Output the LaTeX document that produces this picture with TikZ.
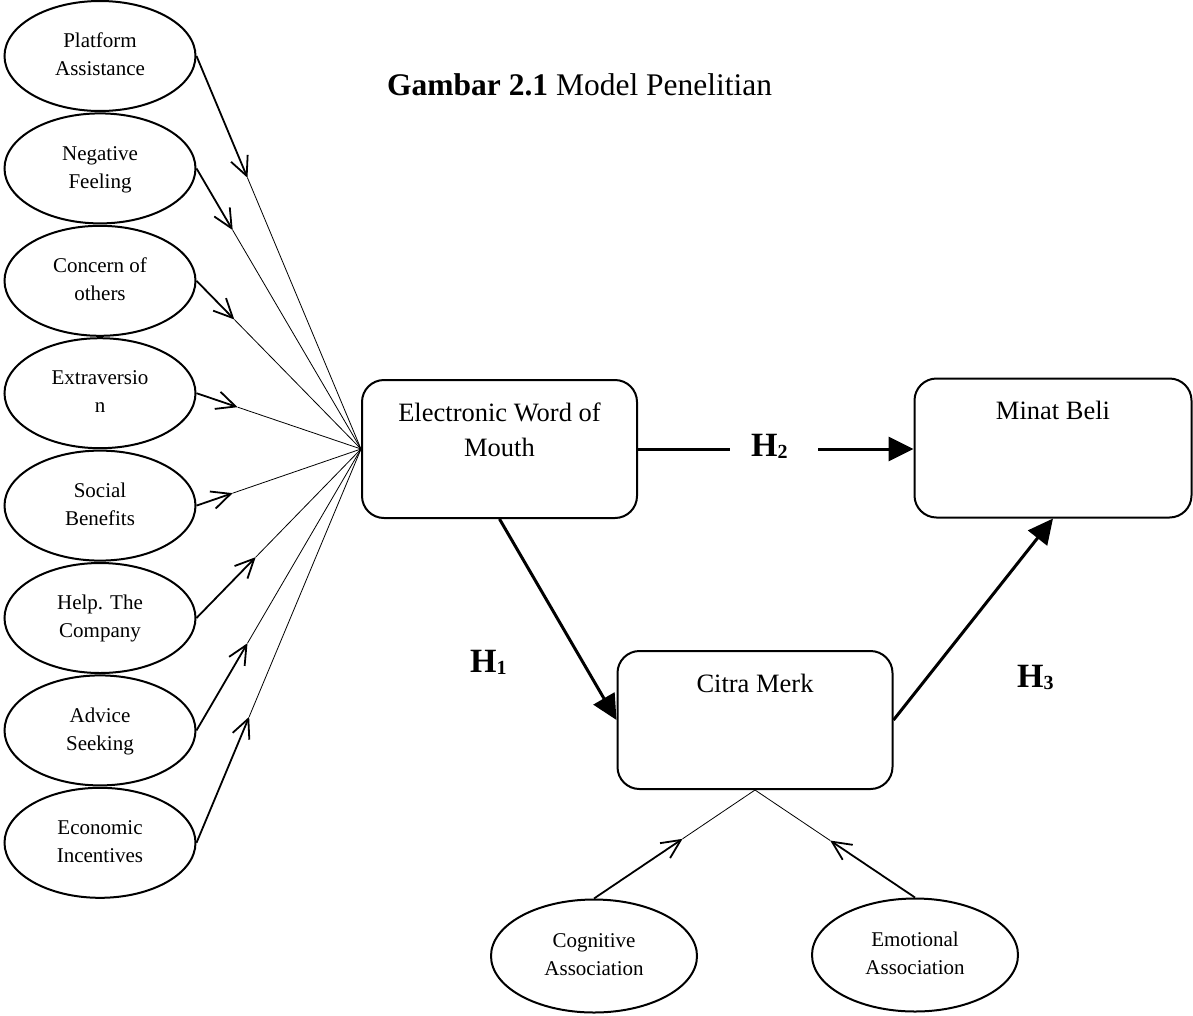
\documentclass[tikz,border=0pt]{standalone}
\usepackage{fontspec}
\setmainfont{Liberation Serif}
\usetikzlibrary{shapes.geometric,arrows.meta,calc}

% subscript of a hypothesis label
\newcommand{\hypsub}[1]{\raisebox{-2pt}{\fontsize{20}{20}\selectfont #1}}

\begin{document}
\begin{tikzpicture}[x=1pt,y=-1pt,
  factor/.style={ellipse, draw, line width=2pt, minimum width=191pt,
    minimum height=110pt, inner sep=0pt, align=center,
    font=\fontsize{21}{28}\selectfont},
  assoc/.style={factor, minimum width=206pt, minimum height=113pt},
  construct/.style={draw, line width=2pt, rounded corners=22pt,
    minimum width=275pt, minimum height=138pt, inner sep=0pt},
  boxtext/.style={anchor=north, align=center, inner sep=0pt,
    font=\fontsize{26.5}{35}\selectfont},
  hyp/.style={anchor=base west, inner sep=0pt,
    font=\fontsize{34}{34}\selectfont\bfseries},
  feed/.style={line width=1.8pt, -{Straight Barb[length=19pt,width=18pt]}},
  link/.style={line width=0.8pt},
  hpath/.style={line width=3pt, -{Triangle[length=25pt,width=24pt]}},
  hline/.style={line width=3pt},
]
\useasboundingbox (0,0) rectangle (1193,1015);

% title
\node[anchor=base west, inner sep=0pt, font=\fontsize{31.5}{36}\selectfont]
  (title) at (387,95) {\textbf{Gambar 2.1} Model Penelitian};

% eWOM dimensions
\node[factor] (pa) at (100,56)    {\strut Platform\\Assistance\strut};
\node[factor] (nf) at (100,168.4) {\strut Negative\\Feeling\strut};
\node[factor] (co) at (100,280.8) {\strut Concern of\\others\strut};
\node[factor] (ex) at (100,393.2) {\strut Extraversio\\n\strut};
\node[factor] (sb) at (100,505.6) {\strut Social\\Benefits\strut};
\node[factor] (hc) at (100,618)   {\strut Help. The\\Company\strut};
\node[factor] (ad) at (100,730.4) {\strut Advice\\Seeking\strut};
\node[factor] (ei) at (100,842.8) {\strut Economic\\Incentives\strut};

% constructs
\node[construct] (ewom) at (499.5,449) {};
\node[boxtext] (ewom-t) at ([yshift=-17.5pt]ewom.north) {\strut Electronic Word of\\Mouth\strut};
\node[construct, minimum width=277pt, minimum height=139pt] (mb) at (1053,448) {};
\node[boxtext] (mb-t) at ([yshift=-17.5pt]mb.north) {\strut Minat Beli\strut};
\node[construct] (cm) at (755,720) {};
\node[boxtext] (cm-t) at ([yshift=-17.5pt]cm.north) {\strut Citra Merk\strut};

% brand image dimensions
\node[assoc] (cog) at (594,956) {\strut Cognitive\\Association\strut};
\node[assoc] (emo) at (915,955) {\strut Emotional\\Association\strut};

% dimension indicators of eWOM
\foreach \n/\t in {pa/0.31, nf/0.22, co/0.23, ex/0.25, sb/0.22, hc/0.36, ad/0.31, ei/0.32} {
  \draw[feed] (\n.east) -- ($(\n.east)!\t!(ewom.west)$) coordinate (\n-tip);
  \draw[link] (\n-tip) -- (ewom.west);
}

% dimension indicators of brand image
\draw[feed] (cog.north) -- ($(cog.north)!0.55!(cm.south)$) coordinate (cog-tip);
\draw[link] (cog-tip) -- (cm.south);
\draw[feed] (emo.north) -- ($(emo.north)!0.53!(cm.south)$) coordinate (emo-tip);
\draw[link] (emo-tip) -- (cm.south);

% hypotheses
\node[hyp] (h1) at (470,672) {H\hypsub{1}};
\node[hyp] (h2) at (751,456) {H\hypsub{2}};
\node[hyp] (h3) at (1017,687) {H\hypsub{3}};

\coordinate (g1) at (730,449);
\coordinate (g2) at (818,449);
\draw[hline] (ewom.east) -- (ewom.east -| g1);
\draw[hpath] (g2) -- (g2 -| mb.west);
\draw[hpath] (ewom.south) -- (cm.west);
\draw[hpath] (cm.east) -- (mb.south);
\end{tikzpicture}
\end{document}
